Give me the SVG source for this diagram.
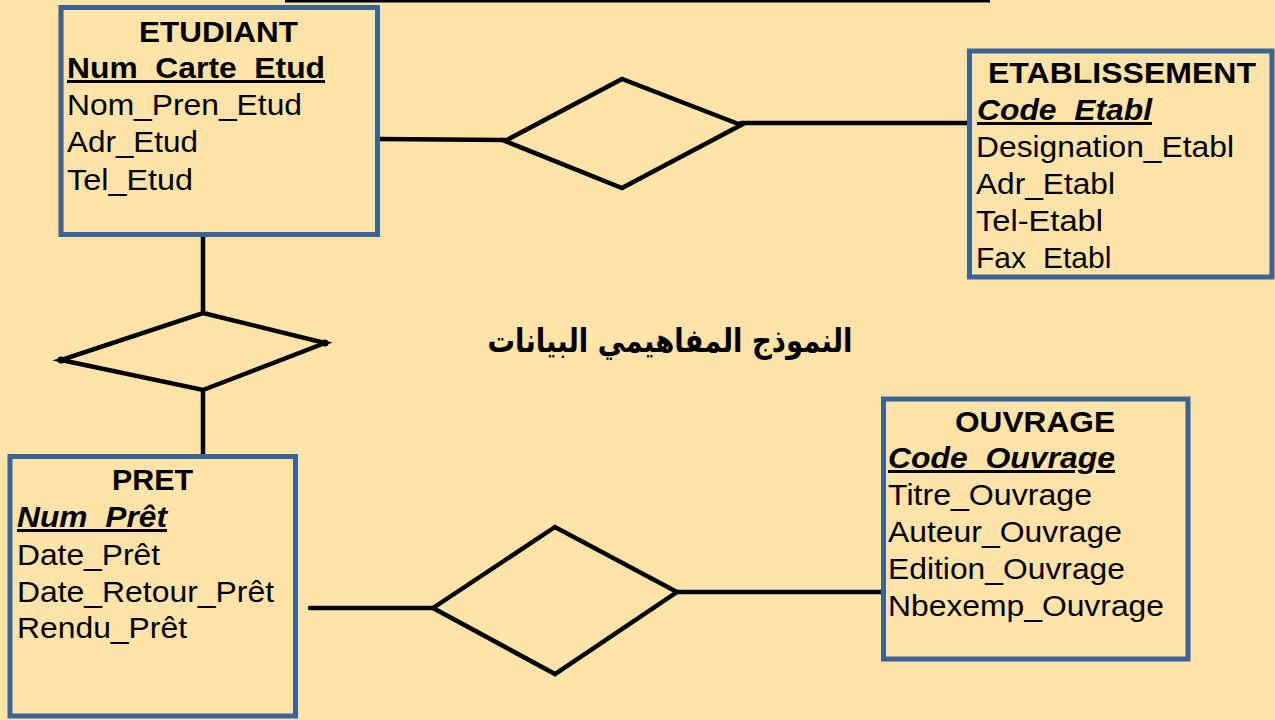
<svg xmlns="http://www.w3.org/2000/svg" width="1275" height="720" viewBox="0 0 1275 720">
  <style>
    .bg { fill: #FFE3A8; }
    .entity { fill: none; stroke: #3A6495; stroke-width: 5; }
    .t { font-family: "Liberation Sans", Arial, sans-serif; font-size: 30px; fill: #000; }
    .title { font-weight: bold; }
    .key { font-weight: bold; text-decoration: underline; }
    .ikey { font-weight: bold; font-style: italic; text-decoration: underline; }
    .link { fill: none; stroke: #000; stroke-width: 4.5; stroke-linecap: round; }
    .rel { fill: none; stroke: #000; stroke-width: 4.5; stroke-linejoin: miter; }
    .ar { font-family: "DejaVu Sans", "Noto Sans", sans-serif; font-weight: bold; font-size: 33px; fill: #000; }
  </style>

  <rect class="bg" x="0" y="0" width="1275" height="720"/>

  <!-- rule across the top edge -->
  <line x1="285" y1="0.5" x2="990" y2="0.5" stroke="#000" stroke-width="4"/>

  <!-- connectors and relationship diamonds -->
  <g id="connectors">
    <line class="link" x1="378" y1="139" x2="505" y2="140"/>
    <polygon class="rel" points="505,141 622,79 741,125 622,188"/>
    <line class="link" x1="741" y1="123" x2="970" y2="123"/>

    <line class="link" x1="203" y1="236" x2="203" y2="313"/>
    <polygon class="rel" points="203,313 325,343 203,390 61,360"/>
    <circle cx="61" cy="360" r="3.5"/>
    <circle cx="325" cy="343" r="3.5"/>
    <line class="link" x1="203" y1="390" x2="203" y2="456"/>

    <line class="link" x1="310" y1="608" x2="433" y2="608"/>
    <polygon class="rel" points="433,608 555,527 677,592 555,674"/>
    <line class="link" x1="677" y1="592" x2="883" y2="592"/>
  </g>

  <g id="etudiant">
    <rect class="entity" x="61" y="7.5" width="316.5" height="227"/>
    <text class="t title" x="139" y="41.5" textLength="159" lengthAdjust="spacingAndGlyphs">ETUDIANT</text>
    <text class="t key" x="67" y="78" textLength="258" lengthAdjust="spacingAndGlyphs">Num_Carte_Etud</text>
    <text class="t" x="67" y="115" textLength="235" lengthAdjust="spacingAndGlyphs">Nom_Pren_Etud</text>
    <text class="t" x="67" y="152" textLength="131" lengthAdjust="spacingAndGlyphs">Adr_Etud</text>
    <text class="t" x="67" y="190" textLength="126" lengthAdjust="spacingAndGlyphs">Tel_Etud</text>
  </g>

  <g id="etablissement">
    <rect class="entity" x="969.5" y="51" width="302.5" height="226"/>
    <text class="t title" x="988" y="83" textLength="268" lengthAdjust="spacingAndGlyphs">ETABLISSEMENT</text>
    <text class="t ikey" x="977" y="120" textLength="175" lengthAdjust="spacingAndGlyphs">Code_Etabl</text>
    <text class="t" x="976" y="157" textLength="258" lengthAdjust="spacingAndGlyphs">Designation_Etabl</text>
    <text class="t" x="976" y="194" textLength="139" lengthAdjust="spacingAndGlyphs">Adr_Etabl</text>
    <text class="t" x="976" y="231" textLength="127" lengthAdjust="spacingAndGlyphs">Tel-Etabl</text>
    <text class="t" y="268"><tspan x="976">Fax</tspan><tspan x="1043">Etabl</tspan></text>
  </g>

  <g id="ouvrage">
    <rect class="entity" x="883.5" y="399" width="304.5" height="260"/>
    <text class="t title" x="955" y="432" textLength="160" lengthAdjust="spacingAndGlyphs">OUVRAGE</text>
    <text class="t ikey" x="888" y="468" textLength="227" lengthAdjust="spacingAndGlyphs">Code_Ouvrage</text>
    <text class="t" x="888" y="505" textLength="204" lengthAdjust="spacingAndGlyphs">Titre_Ouvrage</text>
    <text class="t" x="888" y="542" textLength="234" lengthAdjust="spacingAndGlyphs">Auteur_Ouvrage</text>
    <text class="t" x="888" y="579" textLength="237" lengthAdjust="spacingAndGlyphs">Edition_Ouvrage</text>
    <text class="t" x="888" y="616" textLength="276" lengthAdjust="spacingAndGlyphs">Nbexemp_Ouvrage</text>
  </g>

  <g id="pret">
    <rect class="entity" x="10" y="456.5" width="285.5" height="259.5"/>
    <text class="t title" x="112" y="490" textLength="81" lengthAdjust="spacingAndGlyphs">PRET</text>
    <text class="t ikey" x="17" y="527" textLength="150" lengthAdjust="spacingAndGlyphs">Num_Prêt</text>
    <text class="t" x="17" y="565" textLength="143" lengthAdjust="spacingAndGlyphs">Date_Prêt</text>
    <text class="t" x="17" y="602" textLength="257" lengthAdjust="spacingAndGlyphs">Date_Retour_Prêt</text>
    <text class="t" x="17" y="638" textLength="170" lengthAdjust="spacingAndGlyphs">Rendu_Prêt</text>
  </g>

  <!-- heading -->
  <text class="ar" x="670" y="352" text-anchor="middle" direction="rtl" textLength="365" lengthAdjust="spacingAndGlyphs">النموذج المفاهيمي البيانات</text>
</svg>
